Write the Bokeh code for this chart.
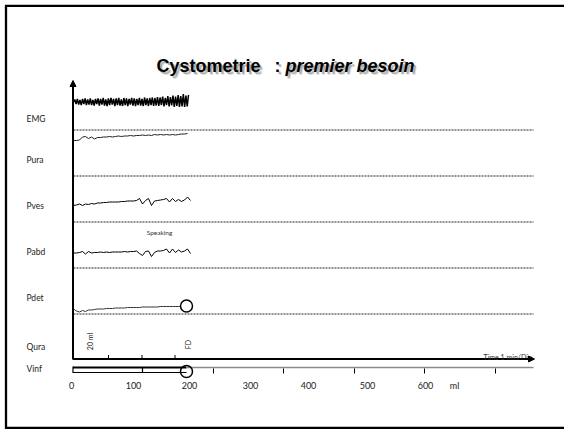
import numpy as np
from bokeh.plotting import figure
from bokeh.models import Range1d, Arrow, NormalHead
from bokeh.core.properties import value
from bokeh.embed import file_html
from bokeh.resources import INLINE

# ---------------- data ----------------
title_plain = "Cystometrie"
title_colon = ":"
title_italic = "premier besoin"
channels = ["EMG", "Pura", "Pves", "Pabd", "Pdet", "Qura", "Vinf"]
volume_labels = ["0", "100", "200", "300", "400", "500", "600"]
volume_unit = "ml"
time_label = "Time 1 min/Div"
event_label = "Speaking"
qura_marks = ["20 ml", "FD"]

emg = [0, -2.5, 2, -3, 2.5, -2, 3, -3, 2, -3.5, 3, -2.5, 2.5, -3.5, 3, -2, 3.5, -3, 2, -3.5,
       3.5, -3, 2.5, -4, 3.5, -2.5, 4, -3.5, 3, -4, 2.5, -3, 4, -3.5, 3, -4, 3.5, -2.5, 4, -4,
       3, -3.5, 4, -3, 2.5, -4, 3.5, -3.5, 4, -3, 3, -4, 3.5, -3, 4, -4.5, 3, -3.5, 4, -4,
       3, -4.5, 4, -4, 3.5, -5, 4, -4.5, 3, -5.5, 4.5, -4, 3, -6, 4.5, -5, 3.5, -6.5, 5, -5.5,
       4, -7, 5, -6, 4.5, -8, 5, -6.5, 4.5, -7]
pura = [140, 140, 139.5, 136.5, 136, 138, 136.5, 138.5, 137, 137, 136.5, 136.5, 136, 136.5,
        136, 135.5, 136, 135.5, 135.5, 135, 135.5, 135, 135, 134.5, 135, 134.5, 135, 134,
        134.5, 134, 134.5, 134, 134.5, 134, 134.5, 134, 133.5, 133.5, 133]
pves = [205, 204.5, 203.5, 205, 203.5, 204, 203, 203.5, 202.5, 202.5, 202, 202, 201.5, 201.5,
        201.5, 201.5, 201, 201, 200.5, 200.5, 200.5, 200, 198, 203.5, 200, 198, 205, 200.5,
        200, 199.5, 199, 198, 201.5, 198, 201, 199, 201, 199.5, 196.5, 200]
pabd = [252.5, 252.5, 252, 251, 253.5, 251, 252.5, 252, 252, 251.5, 252, 251.5, 252, 251.5,
        251.5, 251.5, 251.5, 251, 251.5, 251, 251, 250.5, 253, 255, 251, 250.5, 256, 252,
        250.5, 250.5, 250, 248.5, 252.5, 248.5, 252, 249.5, 251.5, 250.5, 248.5, 253]
pdet = [308.5, 310.5, 311.5, 310, 311, 309.5, 309.5, 309, 308.5, 308.5, 308.5, 308, 308, 308,
        307.5, 307.5, 307.5, 307.5, 307, 307, 307, 307, 307, 306.5, 306.5, 306.5, 306.5,
        306.5, 306.5, 306, 306, 306, 306, 306, 306, 306, 306]

# ---------------- layout (page pixel frame) ----------------
W, H = 564, 429
p = figure(width=W, height=H, x_range=Range1d(0, W), y_range=Range1d(H, 0),
           output_backend="svg", toolbar_location=None, min_border=0)
p.axis.visible = False
p.grid.visible = False
p.outline_line_color = None
p.background_fill_color = "white"
p.border_fill_color = "white"

# slide frame (left, top, bottom)
p.segment(x0=[5.5, 4.5, 4.5], y0=[4.5, 5.3, 427.5], x1=[5.5, 564, 564], y1=[428.5, 5.3, 427.5],
          line_color="black", line_width=2.3)

# title with soft shadow
ty = 65
fs = "18px"
parts = [(156, title_plain, "bold"), (274, title_colon, "bold"), (285, title_italic, "bold italic")]
for dx, alpha in [(3, 0.12), (2, 0.25), (0, 1.0)]:
    for x, t, st in parts:
        p.text(x=[x + dx], y=[ty + dx], text=[t], text_font=value("Liberation Sans"),
               text_font_style=st, text_font_size=fs, text_color="black", text_alpha=alpha,
               text_baseline="alphabetic")

# channel labels
label_y = [118, 159, 205, 251, 297, 346, 368]
p.text(x=[26] * len(channels), y=label_y, text=channels, text_font=value("Lato"),
       text_font_size="8.5px", text_color="#222222", text_baseline="middle", text_align="left")

# dotted dividers
div_y = [129.5, 175.5, 221.5, 267.5, 313.5]
p.segment(x0=[73] * 5, y0=div_y, x1=[533] * 5, y1=div_y, line_color="#222222",
          line_width=1, line_dash="2 1")

# axes
ax_x, ax_y = 72.5, 358.5
p.segment(x0=[ax_x], y0=[ax_y + 0.5], x1=[ax_x], y1=[86], line_color="black", line_width=2)
p.add_layout(Arrow(end=NormalHead(size=6, fill_color="black", line_color="black"),
                   x_start=ax_x, y_start=90, x_end=ax_x, y_end=80, line_width=1.5))
p.segment(x0=[ax_x], y0=[ax_y], x1=[528], y1=[ax_y], line_color="black", line_width=2)
p.add_layout(Arrow(end=NormalHead(size=6, fill_color="black", line_color="black"),
                   x_start=522, y_start=ax_y, x_end=534, y_end=ax_y, line_width=1.5))
p.text(x=[531], y=[356.5], text=[time_label], text_font=value("Lato"), text_font_size="7px",
       text_color="#333333", text_align="right", text_baseline="alphabetic")

# traces
x0, step = 73, 3
def xs(vals, x_end=None):
    if x_end is None:
        return x0 + step * np.arange(len(vals))
    return np.linspace(x0, x_end, len(vals))

p.line(xs(emg, 188), 101.5 + np.array(emg), line_color="black", line_width=1.5)
p.line(xs(pura), pura, line_color="#222222", line_width=1)
p.line(xs(pves), pves, line_color="black", line_width=1)
p.line(xs(pabd), pabd, line_color="black", line_width=1)
p.line(xs(pdet), pdet, line_color="#333333", line_width=1)
p.scatter([186], [305.5], marker="circle", size=12, fill_color="white", line_color="black",
          line_width=1.5)

p.text(x=[159], y=[232], text=[event_label], text_font=value("Lato"), text_font_size="6.5px",
       text_color="#333333", text_align="center", text_baseline="middle")

# Qura marks
qt = [108, 141.5, 174.5]
p.segment(x0=qt, y0=[ax_y - 4] * 3, x1=qt, y1=[ax_y] * 3, line_color="black", line_width=1)
p.text(x=[89.5, 187], y=[341, 344], text=qura_marks, angle=np.pi / 2, text_font=value("Lato"),
       text_font_size="7px", text_color="#222222", text_align="center",
       text_baseline="middle")

# Vinf bar
vy_top, vy_bot = 367, 372
p.segment(x0=[72.5], y0=[vy_top], x1=[186], y1=[vy_top], line_color="black", line_width=2)
p.segment(x0=[72.5], y0=[vy_bot], x1=[186], y1=[vy_bot], line_color="black", line_width=1)
p.segment(x0=[72.5, 142], y0=[366, vy_top], x1=[72.5, 142], y1=[vy_bot + 0.5, vy_bot],
          line_color="black", line_width=1.2)
p.segment(x0=[186], y0=[vy_top], x1=[533], y1=[vy_top], line_color="#8a8a8a", line_width=1.5)
vt = [213, 283, 354, 424, 495]
p.segment(x0=vt, y0=[vy_top + 1] * 5, x1=vt, y1=[vy_bot + 1] * 5, line_color="black",
          line_width=1)
p.scatter([186], [371], marker="circle", size=12, fill_color=None, line_color="black",
          line_width=1.5)

# volume scale labels
vl_x = [71, 133, 189, 250, 308, 367, 425]
p.text(x=vl_x, y=[385] * 7, text=volume_labels, text_font=value("Lato"), text_font_size="9px",
       text_color="#222222", text_align="center", text_baseline="middle")
p.text(x=[454], y=[385], text=[volume_unit], text_font=value("Lato"), text_font_size="9px",
       text_color="#222222", text_align="center", text_baseline="middle")

open("out.html", "w").write(file_html(p, INLINE))
